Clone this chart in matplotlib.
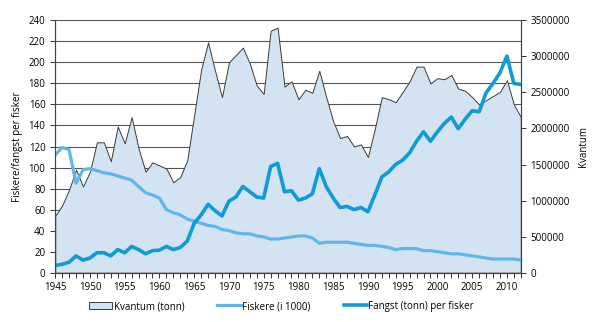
import numpy as np
import matplotlib.pyplot as plt
from matplotlib.ticker import MultipleLocator

plt.rcParams['font.family'] = ['Open Sans', 'DejaVu Sans']

# Data
years = list(range(1945, 2013))

kvantum = [787500, 933000, 1152000, 1429000, 1196000, 1400000, 1808000, 1808000,
           1546000, 2027000, 1794000, 2158000, 1721000, 1400000, 1531000, 1487000,
           1444000, 1254000, 1327000, 1560000, 2188000, 2815000, 3194000, 2800000,
           2435000, 2917000, 3019000, 3121000, 2902000, 2596000, 2479000, 3354000,
           3398000, 2581000, 2654000, 2406000, 2538000, 2494000, 2800000, 2435000,
           2100000, 1867000, 1896000, 1750000, 1779000, 1604000, 1998000, 2435000,
           2406000, 2363000, 2508000, 2654000, 2858000, 2858000, 2625000, 2698000,
           2683000, 2742000, 2552000, 2523000, 2435000, 2333000, 2392000, 2450000,
           2508000, 2669000, 2333000, 2158000]

fiskere = [112, 119, 117, 85, 98, 99, 97, 95, 94, 92, 90, 88, 82, 76, 74, 71,
           60, 57, 55, 51, 49, 47, 45, 44, 41, 40, 38, 37, 37, 35, 34, 32,
           32, 33, 34, 35, 35, 33, 28, 29, 29, 29, 29, 28, 27, 26, 26, 25,
           24, 22, 23, 23, 23, 21, 21, 20, 19, 18, 18, 17, 16, 15, 14, 13,
           13, 13, 13, 12]

fangst = [7, 8, 10, 16, 12, 14, 19, 19, 16, 22, 19, 25, 22, 18, 21, 21.5,
          25, 22, 24, 30, 47, 55, 65, 59, 54, 68, 72, 82, 77, 72, 71, 101,
          104, 77, 78, 69, 71, 75, 99, 82, 71, 62, 63, 60, 62, 58, 74, 91,
          96, 103, 107, 114, 125, 134, 125, 134, 142, 148, 137, 146, 154, 153,
          171, 180, 190, 206, 180, 179]

left_ticks = list(range(0, 241, 20))
right_ticks = list(range(0, 3500001, 500000))

fig = plt.figure(figsize=(6, 3.22), dpi=100)
ax = fig.add_axes([0.092, 0.153, 0.776, 0.784])
ax2 = ax.twinx()
ax.set_zorder(ax2.get_zorder() + 1)
ax.patch.set_visible(False)

# area (right axis) + grid behind it
ax2.hlines(left_ticks, 1945, 2012, transform=ax.transData, color='#555555', lw=0.8, zorder=0)
ax2.fill_between(years, kvantum, 0, facecolor='#d3e3f2', edgecolor='#3a3a3a', lw=0.7,
                 zorder=1, label='Kvantum (tonn)')

# lines (left axis)
ax.plot(years, fiskere, color='#62b6e7', lw=2.3, solid_joinstyle='round', label='Fiskere (i 1000)')
ax.plot(years, fangst, color='#0f9ad8', lw=2.6, solid_joinstyle='round', label='Fangst (tonn) per fisker')

ax.set_xlim(1945, 2012)
ax.set_ylim(0, 240)
ax2.set_ylim(0, 3500000)
ax.set_yticks(left_ticks)
ax2.set_yticks(right_ticks)
ax2.set_yticklabels([str(t) for t in right_ticks])
ax.xaxis.set_major_locator(MultipleLocator(5))
ax.xaxis.set_minor_locator(MultipleLocator(1))

for a in (ax, ax2):
    a.tick_params(which='both', direction='out', colors='#333333', labelsize=7, width=0.7)
    a.tick_params(which='major', length=3.5)
    a.tick_params(which='minor', length=3.5)
    a.spines['top'].set_visible(False)
    for s in a.spines.values():
        s.set_color('#444444')
        s.set_linewidth(0.8)
ax.tick_params(axis='both', labelcolor='black')
ax2.tick_params(axis='y', labelcolor='black')

ax.set_ylabel('Fiskere/fangst per fisker', fontsize=7, labelpad=4)
ax2.set_ylabel('Kvantum', fontsize=7, rotation=90, labelpad=6)

h1, l1 = ax2.get_legend_handles_labels()
h2, l2 = ax.get_legend_handles_labels()
fig.legend(h1 + h2, l1 + l2, loc='center', bbox_to_anchor=(0.469, 0.048), ncol=3,
           frameon=False, fontsize=7, handlelength=2.4, handleheight=0.8,
           handletextpad=0.15, columnspacing=3.4)

fig.savefig('out.png', dpi=100)
